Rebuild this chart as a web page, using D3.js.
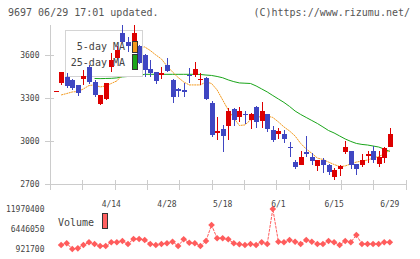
<!DOCTYPE html>
<html>
<head>
<meta charset="utf-8">
<script src="https://cdn.jsdelivr.net/npm/d3@7"></script>
<style>
  html, body { margin: 0; padding: 0; background: #fff; }
  svg { display: block; }
  text { font-family: "DejaVu Sans Mono", monospace; }
</style>
</head>
<body>
<div id="chart"></div>
<script>
// ---- data ----
const dateLabels = ["4/14", "4/28", "5/18", "6/1", "6/15", "6/29"];
const dateLabelIdx = [10, 20, 30, 40, 50, 60];

const open  = [3349,3402,3449,3425,3391,3430,3518,3414,3256,3291,3518,3577,3751,3693,3681,3661,3600,3502,3479,3463,3530,3425,3363,3356,3460,3460,3428,3442,3267,3063,3084,3107,3221,3170,3188,3147,3239,3142,3188,3077,3049,3049,2958,2856,2833,2923,2891,2826,2870,2833,2747,2805,2926,2930,2840,2833,2898,2930,2840,2879,2960];
const high  = [3349,3483,3472,3430,3391,3495,3530,3425,3321,3402,3612,3663,3809,3728,3809,3668,3607,3565,3483,3514,3577,3430,3372,3407,3507,3553,3472,3449,3281,3170,3112,3228,3232,3239,3209,3193,3246,3274,3188,3107,3088,3077,2995,2867,2933,3035,2919,2867,2884,2840,2809,2833,3002,2930,2840,2909,2933,2965,2933,2956,3088];
const low   = [3349,3391,3368,3356,3316,3391,3400,3309,3250,3288,3483,3570,3685,3624,3616,3535,3449,3449,3395,3430,3483,3263,3305,3305,3402,3444,3391,3286,3030,3007,2926,3007,3107,3135,3116,3081,3088,3088,3065,2995,3012,2988,2891,2805,2830,2891,2833,2793,2779,2763,2728,2758,2912,2805,2763,2821,2844,2844,2816,2849,2956];
const close = [3349,3483,3386,3368,3337,3453,3414,3321,3321,3402,3565,3635,3693,3666,3751,3542,3495,3477,3421,3474,3491,3305,3351,3344,3453,3502,3432,3293,3042,3067,3035,3209,3147,3209,3179,3188,3135,3209,3084,3007,3072,3014,2951,2816,2891,2912,2863,2867,2833,2786,2798,2828,2960,2833,2805,2867,2909,2867,2891,2949,3049];

const ma5 = [null,3321,3331,3342,3345,3363,3387,3391,3377,3384,3401,3419,3460,3540,3600,3650,3656,3631,3600,3572,3523,3481,3443,3412,3391,3391,3391,3412,3401,3356,3286,3216,3160,3108,3112,3147,3164,3171,3174,3164,3133,3098,3070,3035,2983,2944,2914,2881,2871,2853,2836,2822,2826,2840,2853,2860,2867,2881,2892,2909,2937];
const ma25 = [null,null,null,null,null,null,null,3436,3435,3436,3437,3440,3447,3450,3454,3457,3465,3465,3465,3465,3465,3465,3465,3465,3465,3465,3464,3460,3457,3450,3441,3426,3414,3405,3403,3401,3384,3363,3342,3317,3293,3269,3241,3209,3185,3164,3143,3122,3098,3073,3056,3035,3014,2997,2983,2976,2972,2965,2958,2944,2927];

const volume = [null,2026570,2500000,921700,1110000,2026570,2770000,2300000,1750000,1750000,2770000,2770000,3130000,2300000,3680000,3680000,3410000,2300000,2026570,2300000,2500000,2940000,1750000,3600000,2660000,2500000,1750000,3130000,7550000,3880000,3880000,3600000,2500000,2220000,2026570,2300000,2026570,2770000,2300000,11970400,2940000,2770000,3410000,2940000,2300000,3410000,2940000,2300000,2300000,3130000,2770000,2026570,3130000,2770000,4790000,2300000,2300000,2300000,2300000,2770000,2770000];

const priceTicks = [2700, 3000, 3300, 3600];
const volumeTicks = [921700, 6446050, 11970400];
const titleText = "9697 06/29 17:01 updated.";
const copyText = "(C)https://www.rizumu.net/";

// ---- layout ----
const W = 420, H = 259;
const C = {
  up: "#dd0000", down: "#3f46c2", ma5: "#f39a1e", ma25: "#1aa51a",
  axis: "#cccccc", text: "#444444", vol: "#ff5c5c"
};

const svg = d3.select("#chart").append("svg").attr("width", W).attr("height", H);

const n = close.length;
const x = d3.scaleLinear().domain([-1, 63]).range([50, 406.5]);
const y = d3.scaleLinear().domain([2700, d3.max(high)]).range([184, 25]);
const yv = d3.scaleLinear().domain([d3.min(volume.filter(v => v != null)), d3.max(volume)]).range([249, 209]);
const gridX = d3.scaleLinear().domain([0, 11]).range([50, 405.5]);

// title
svg.append("text").attr("x", 8).attr("y", 16).attr("font-size", 10).attr("fill", "#555").text(titleText);
svg.append("text").attr("x", 410).attr("y", 15.5).attr("text-anchor", "end").attr("font-size", 10).attr("fill", "#555").text(copyText);

// axes
const ax = svg.append("g").attr("shape-rendering", "crispEdges").attr("stroke", C.axis).attr("stroke-width", 1);
ax.append("line").attr("x1", 50.5).attr("x2", 50.5).attr("y1", 25).attr("y2", 190);
ax.append("line").attr("x1", 50).attr("x2", 406).attr("y1", 184.5).attr("y2", 184.5);
d3.range(12).forEach(k => {
  const gx = Math.round(gridX(k)) + 0.5;
  ax.append("line").attr("x1", gx).attr("x2", gx).attr("y1", 180).attr("y2", 190);
});
priceTicks.forEach(p => {
  const py = Math.round(y(p)) + 0.5;
  ax.append("line").attr("x1", 45).attr("x2", 54).attr("y1", py).attr("y2", py);
});

svg.append("g").selectAll("text").data(priceTicks).join("text")
  .attr("x", 39.5).attr("y", d => y(d) + 3).attr("text-anchor", "end")
  .attr("font-size", 8).attr("fill", C.text).text(d => d);

svg.append("g").selectAll("text").data(dateLabelIdx).join("text")
  .attr("x", d => x(d)).attr("y", 207).attr("text-anchor", "middle")
  .attr("font-size", 8).attr("fill", C.text).text((d, i) => dateLabels[i]);

svg.append("g").selectAll("text").data(volumeTicks).join("text")
  .attr("x", 44.5).attr("y", d => yv(d) + 3).attr("text-anchor", "end")
  .attr("font-size", 8).attr("fill", C.text).text(d => d);

// moving averages
const lineGen = arr => d3.line().defined(i => arr[i] != null).x(i => x(i)).y(i => y(arr[i]))(d3.range(n));
svg.append("path").attr("d", lineGen(ma25)).attr("fill", "none").attr("stroke", C.ma25).attr("stroke-width", 1);
svg.append("path").attr("d", lineGen(ma5)).attr("fill", "none").attr("stroke", C.ma5).attr("stroke-width", 1).attr("stroke-dasharray", "2,0.6");

// legend box (covers lines, below candles)
svg.append("rect").attr("x", 65.5).attr("y", 30.5).attr("width", 77).attr("height", 46)
  .attr("fill", "#fff").attr("stroke", "#d4d4d4").attr("stroke-width", 1);

// candles
const cg = svg.append("g").attr("shape-rendering", "crispEdges");
d3.range(n).forEach(i => {
  const col = close[i] >= open[i] ? C.up : C.down;
  const cx = x(i);
  cg.append("line").attr("x1", Math.round(cx) + 0.5).attr("x2", Math.round(cx) + 0.5)
    .attr("y1", y(high[i])).attr("y2", y(low[i])).attr("stroke", col).attr("stroke-width", 1);
  const top = y(Math.max(open[i], close[i]));
  const bot = y(Math.min(open[i], close[i]));
  cg.append("rect").attr("x", Math.round(cx) - 2).attr("width", 5)
    .attr("y", top).attr("height", Math.max(1.2, bot - top)).attr("fill", col);
});

// legend texts & swatches
svg.append("text").attr("x", 125).attr("y", 49.5).attr("text-anchor", "end").attr("font-size", 10).attr("fill", C.text).text("5-day MA");
svg.append("text").attr("x", 125).attr("y", 66).attr("text-anchor", "end").attr("font-size", 10).attr("fill", C.text).text("25-day MA");
svg.append("rect").attr("x", 132).attr("y", 41.5).attr("width", 5).attr("height", 11).attr("fill", C.ma5).attr("stroke", "#333").attr("stroke-width", 1).attr("shape-rendering", "crispEdges");
svg.append("rect").attr("x", 132).attr("y", 54.5).attr("width", 5).attr("height", 15).attr("fill", C.ma25).attr("stroke", "#333").attr("stroke-width", 1).attr("shape-rendering", "crispEdges");

// volume
svg.append("text").attr("x", 58).attr("y", 226).attr("font-size", 10).attr("fill", C.text).text("Volume");
svg.append("rect").attr("x", 102.5).attr("y", 213.5).attr("width", 5).attr("height", 15).attr("fill", "#ff6060").attr("stroke", "#333").attr("stroke-width", 1).attr("shape-rendering", "crispEdges");

const vIdx = d3.range(n).filter(i => volume[i] != null);
const vLine = d3.line().x(i => x(i)).y(i => yv(volume[i]));
svg.append("path").attr("d", vLine(vIdx)).attr("fill", "none").attr("stroke", C.vol).attr("stroke-width", 1).attr("stroke-dasharray", "3,1");
svg.append("g").selectAll("path").data(vIdx).join("path")
  .attr("d", d3.symbol().type(d3.symbolSquare).size(22))
  .attr("transform", i => `translate(${x(i)},${yv(volume[i])}) rotate(45)`)
  .attr("fill", C.vol);
</script>
</body>
</html>
